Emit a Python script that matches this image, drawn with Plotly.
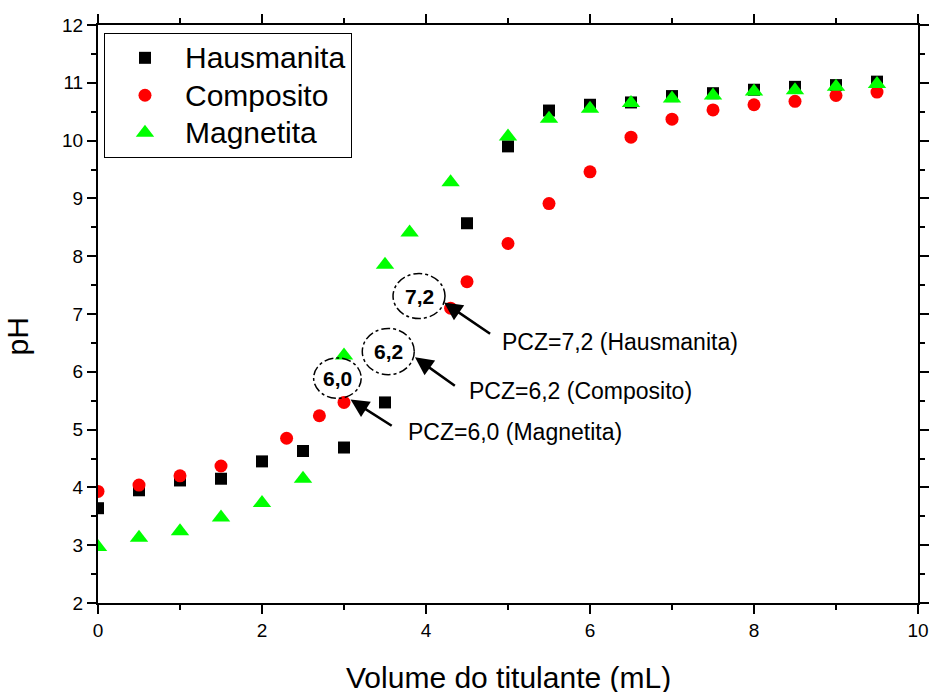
import plotly.graph_objects as go

# Titration curves: pH vs. titrant volume
haus_x = [0, 0.5, 1, 1.5, 2, 2.5, 3, 3.5, 4.5, 5, 5.5, 6, 6.5, 7, 7.5, 8, 8.5, 9, 9.5]
haus_y = [3.64, 3.95, 4.12, 4.15, 4.45, 4.63, 4.69, 5.47, 8.57, 9.90, 10.52, 10.62,
          10.66, 10.77, 10.82, 10.88, 10.93, 10.96, 11.02]

comp_x = [0, 0.5, 1, 1.5, 2.3, 2.7, 3, 4.3, 4.5, 5, 5.5, 6, 6.5, 7, 7.5, 8, 8.5, 9, 9.5]
comp_y = [3.93, 4.04, 4.20, 4.37, 4.85, 5.24, 5.47, 7.10, 7.56, 8.22, 8.91, 9.46,
          10.06, 10.37, 10.53, 10.62, 10.68, 10.78, 10.84]

magn_x = [0, 0.5, 1, 1.5, 2, 2.5, 3, 3.5, 3.8, 4.3, 5, 5.5, 6, 6.5, 7, 7.5, 8, 8.5, 9, 9.5]
magn_y = [2.97, 3.13, 3.24, 3.48, 3.73, 4.15, 6.28, 7.85, 8.41, 9.28, 10.07, 10.38,
          10.55, 10.65, 10.73, 10.78, 10.85, 10.87, 10.93, 10.98]

# Point of zero charge callouts: (label, circle centre x, centre y, half-width, half-height)
pcz_labels = ["7,2", "6,2", "6,0"]
pcz_cx = [3.915, 3.54, 2.92]
pcz_cy = [7.31, 6.35, 5.89]
pcz_rx = [0.317, 0.317, 0.29]
pcz_ry = [0.39, 0.40, 0.35]

# Arrow head / tail positions and the caption text
arrow_head_x = [4.22, 3.866, 3.08]
arrow_head_y = [7.20, 6.25, 5.52]
arrow_tail_x = [4.80, 4.37, 3.60]
arrow_tail_y = [6.64, 5.74, 5.05]
caption_text = ["PCZ=7,2 (Hausmanita)", "PCZ=6,2 (Composito)", "PCZ=6,0 (Magnetita)"]
caption_x = [4.90, 4.50, 3.76]
caption_y = [6.52, 5.66, 4.96]

FONT = "Liberation Sans, Arial, sans-serif"


def legend_label(name):
    # entries keep a compact row pitch while the label itself is drawn larger
    return "<span style='font-size:30px'>%s</span>" % name


fig = go.Figure()
fig.add_trace(go.Scatter(x=haus_x, y=haus_y, mode="markers", name=legend_label("Hausmanita"),
                         marker=dict(symbol="square", size=12, color="black")))
fig.add_trace(go.Scatter(x=comp_x, y=comp_y, mode="markers", name=legend_label("Composito"),
                         marker=dict(symbol="circle", size=13, color="#ff0000")))
fig.add_trace(go.Scatter(x=magn_x, y=magn_y, mode="markers", name=legend_label("Magnetita"),
                         marker=dict(symbol="triangle-up", size=16, color="#00ff00")))

shapes = []
annotations = []
for lab, cx, cy, rx, ry in zip(pcz_labels, pcz_cx, pcz_cy, pcz_rx, pcz_ry):
    shapes.append(dict(type="circle", xref="x", yref="y",
                       x0=cx - rx, x1=cx + rx, y0=cy - ry, y1=cy + ry,
                       line=dict(color="black", width=1.5, dash="dashdot")))
    annotations.append(dict(x=cx, y=cy, xref="x", yref="y", text="<b>%s</b>" % lab,
                            showarrow=False, font=dict(family=FONT, size=21, color="black")))

for hx, hy, tx, ty in zip(arrow_head_x, arrow_head_y, arrow_tail_x, arrow_tail_y):
    annotations.append(dict(x=hx, y=hy, ax=tx, ay=ty, xref="x", yref="y",
                            axref="x", ayref="y", text="", showarrow=True,
                            arrowhead=2, arrowsize=1.4, arrowwidth=2.6,
                            arrowcolor="black", standoff=0, startstandoff=0))

for t, x, y in zip(caption_text, caption_x, caption_y):
    annotations.append(dict(x=x, y=y, xref="x", yref="y", text=t, showarrow=False,
                            xanchor="left", yanchor="middle",
                            font=dict(family=FONT, size=23, color="black")))

# Axis titles
annotations.append(dict(x=0.5, y=-0.097, xref="paper", yref="paper",
                        text="Volume do titulante (mL)", showarrow=False,
                        xanchor="center", yanchor="top",
                        font=dict(family=FONT, size=30, color="black")))
annotations.append(dict(x=-0.097, y=0.462, xref="paper", yref="paper",
                        text="pH", showarrow=False, textangle=-90,
                        xanchor="center", yanchor="middle",
                        font=dict(family=FONT, size=30, color="black")))

axis_common = dict(showline=True, linecolor="black", linewidth=2, mirror="ticks",
                   ticks="outside", ticklen=9, tickwidth=2, tickcolor="black",
                   showgrid=False, zeroline=False, automargin=False,
                   tickfont=dict(family=FONT, size=19, color="black"))

fig.update_layout(
    template="none",
    width=932, height=692,
    margin=dict(l=98, r=14, t=25, b=89, autoexpand=False),
    paper_bgcolor="white", plot_bgcolor="white",
    font=dict(family=FONT, color="black"),
    xaxis=dict(range=[0, 10], dtick=2, tick0=0,
               minor=dict(dtick=1, ticks="outside", ticklen=5, tickwidth=2, tickcolor="black"),
               **axis_common),
    yaxis=dict(range=[2, 12], dtick=1, tick0=2,
               minor=dict(dtick=0.5, ticks="outside", ticklen=5, tickwidth=2, tickcolor="black"),
               **axis_common),
    legend=dict(x=0.0073, y=0.986, xanchor="left", yanchor="top",
                bordercolor="black", borderwidth=1, bgcolor="white",
                font=dict(family=FONT, size=26.5, color="black"),
                itemwidth=70, tracegroupgap=0),
    shapes=shapes,
    annotations=annotations,
    showlegend=True,
)

fig.write_html("out.html")
